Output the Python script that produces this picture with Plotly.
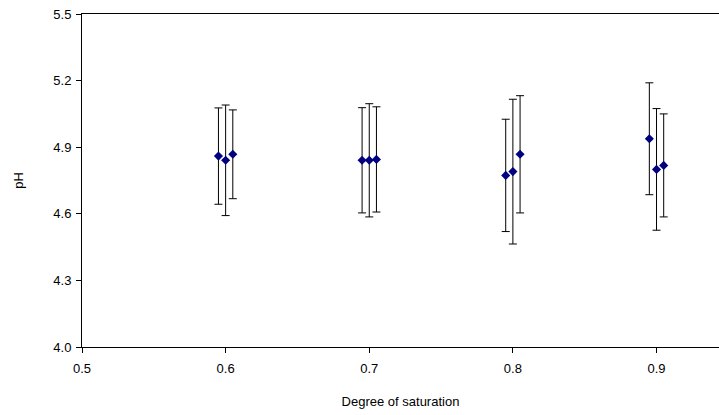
import plotly.graph_objects as go

saturation = [0.595, 0.600, 0.605, 0.695, 0.700, 0.705, 0.795, 0.800, 0.805, 0.895, 0.900, 0.905]
ph_mean = [4.860, 4.841, 4.868, 4.841, 4.841, 4.845, 4.773, 4.790, 4.868, 4.938, 4.800, 4.818]
ph_err = [0.217, 0.249, 0.200, 0.237, 0.255, 0.237, 0.253, 0.326, 0.264, 0.252, 0.274, 0.232]

x_ticks = [0.5, 0.6, 0.7, 0.8, 0.9]
y_ticks = [4.0, 4.3, 4.6, 4.9, 5.2, 5.5]

fig = go.Figure()
fig.add_trace(go.Scatter(
    x=saturation, y=ph_mean, mode="markers",
    marker=dict(symbol="diamond", size=7, color="#000080"),
    error_y=dict(type="data", array=ph_err, visible=True, color="black", thickness=1, width=4),
    showlegend=False,
))

font = dict(family="Liberation Sans, Arial, sans-serif", size=13, color="black")
fig.update_layout(
    width=719, height=415,
    margin=dict(l=82, r=0, t=14, b=68),
    paper_bgcolor="white", plot_bgcolor="white",
    font=font,
    xaxis=dict(
        range=[0.5, 0.9435], tickvals=x_ticks, ticktext=[f"{v:.1f}" for v in x_ticks],
        showgrid=False, zeroline=False, showline=True, linecolor="black", linewidth=1,
        ticks="outside", ticklen=5, tickcolor="black", mirror=True,
        ticklabelstandoff=4,
        title=dict(text="Degree of saturation", standoff=22, font=dict(size=13)),
    ),
    yaxis=dict(
        range=[4.0, 5.5], tickvals=y_ticks, ticktext=[f"{v:.1f}" for v in y_ticks],
        showgrid=False, zeroline=False, showline=True, linecolor="black", linewidth=1,
        ticks="outside", ticklen=5, tickcolor="black",
        ticklabelstandoff=2,
        title=dict(text="pH", standoff=26, font=dict(size=13)),
    ),
)

fig.write_html("out.html")
